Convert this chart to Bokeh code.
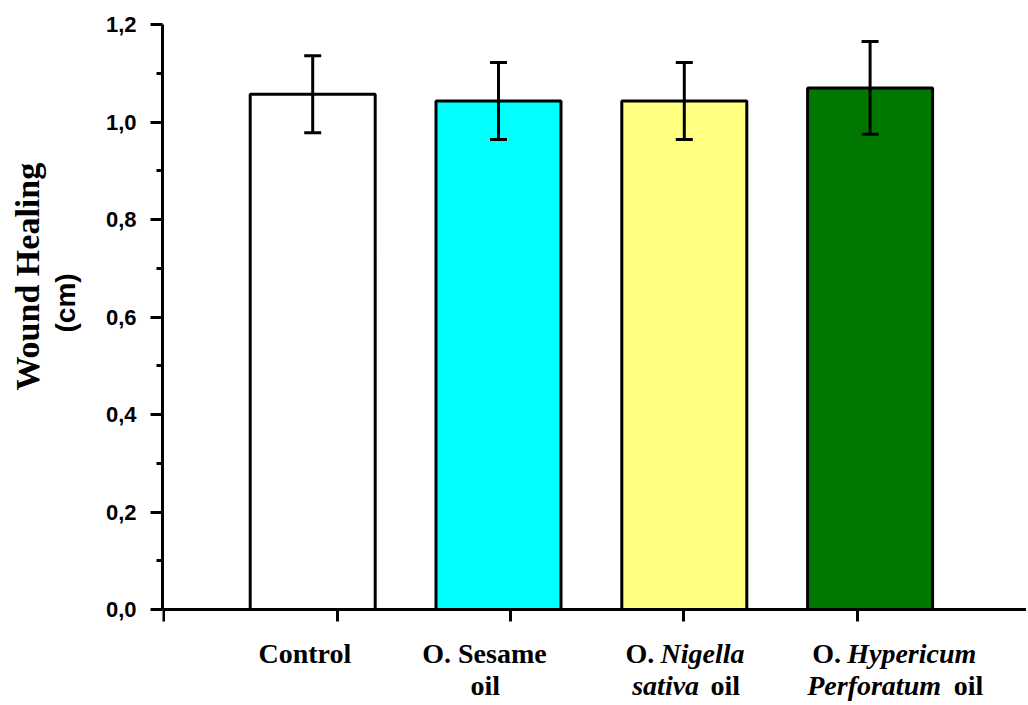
from bokeh.plotting import figure
from bokeh.models import (ColumnDataSource, Range1d, FixedTicker, CustomJSTickFormatter,
                          Whisker, TeeHead, Label, Title)
from bokeh.embed import file_html
from bokeh.resources import INLINE

# ---- data ----
categories = ["Control", "O. Sesame oil", "O. Nigella sativa oil", "O. Hypericum Perforatum oil"]
means = [1.057, 1.043, 1.043, 1.070]
sds = [0.079, 0.079, 0.079, 0.095]
colors = ["#FFFFFF", "#00FFFF", "#FFFF80", "#007800"]
y_ticks = [0.0, 0.2, 0.4, 0.6, 0.8, 1.0, 1.2]
y_minor = [0.1, 0.3, 0.5, 0.7, 0.9, 1.1]

# ---- layout helpers (page pixel -> data) ----
W, H = 1026, 703
BL, BT = 162, 24
FRAME_L, FRAME_R = BL, W
FRAME_T, FRAME_B = BT, H
Y0_PX = 609                  # pixel row of value 0
PX0, PXU = 312.2, 185.8      # bar 0 centre, px per category step
YMAX = 1.2
PYU = (Y0_PX - FRAME_T) / YMAX
LABEL_SHIFT = 10             # Label anchor vs. glyph baseline correction

def dx(px):
    return (px - PX0) / PXU

def dy(py):
    return (Y0_PX - py) / PYU

x_idx = list(range(len(categories)))
upper = [m + s for m, s in zip(means, sds)]
lower = [m - s for m, s in zip(means, sds)]
src = ColumnDataSource(dict(x=x_idx, top=means, upper=upper, lower=lower,
                            color=colors, name=categories))

p = figure(width=W, height=H, output_backend="svg", toolbar_location=None,
           x_range=Range1d(dx(FRAME_L), dx(FRAME_R)), y_range=Range1d(dy(FRAME_B), YMAX),
           x_axis_location="above",
           min_border_left=BL, min_border_right=0, min_border_top=BT, min_border_bottom=0)
p.outline_line_color = None
p.grid.visible = False

p.vbar(x="x", top="top", width=125 / PXU, bottom=0, source=src,
       fill_color="color", line_color="black", line_width=3)

wh = Whisker(source=src, base="x", upper="upper", lower="lower",
             line_color="black", line_width=3, level="overlay",
             upper_head=TeeHead(size=17, line_width=3, line_color="black"),
             lower_head=TeeHead(size=17, line_width=3, line_color="black"))
p.add_layout(wh)

# y axis
ya = p.yaxis[0]
ya.bounds = (0, YMAX)
ya.ticker = FixedTicker(ticks=y_ticks, minor_ticks=y_minor)
ya.formatter = CustomJSTickFormatter(code="return tick.toFixed(1).replace('.', ',');")
ya.axis_line_width = 3
ya.major_tick_line_width = 3
ya.minor_tick_line_width = 3
ya.major_tick_out = 12
ya.major_tick_in = 0
ya.minor_tick_out = 6
ya.minor_tick_in = 0
ya.major_label_standoff = 14
ya.major_label_text_font = "Liberation Sans"
ya.major_label_text_font_style = "bold"
ya.major_label_text_font_size = "22px"
ya.major_label_text_color = "black"

# x axis drawn at y = 0, ticks pointing down
xa = p.xaxis[0]
xa.fixed_location = 0
x_tick_px = [162.7, 336.7, 510.0, 683.3, 857.3]
xa.ticker = FixedTicker(ticks=[dx(v) for v in x_tick_px], minor_ticks=[])
xa.formatter = CustomJSTickFormatter(code="return '';")
xa.major_label_text_font_size = "0px"
xa.major_label_standoff = 0
xa.axis_line_width = 3
xa.major_tick_line_width = 3
xa.major_tick_out = 0
xa.major_tick_in = 12
xa.minor_tick_out = 0
xa.minor_tick_in = 0

# y axis title: spacer, "(cm)" inner, "Wound Healing" outer
p.add_layout(Title(text=".", text_font_size="2px", text_color="white", standoff=19), "left")
p.add_layout(Title(text="(cm)", align="left", offset=FRAME_B - 332, vertical_align="bottom",
                   standoff=0, text_font="Liberation Sans", text_font_style="bold",
                   text_font_size="28px", text_color="black"), "left")
p.add_layout(Title(text="Wound Healing", align="left", offset=FRAME_B - 390, vertical_align="bottom",
                   standoff=4, text_font="Liberation Serif", text_font_style="bold",
                   text_font_size="34px", text_color="black"), "left")

# category labels (mixed bold / bold italic segments), page-pixel anchors
segments = [
    ("Control", "bold", 258.0, 663),
    ("O. Sesame", "bold", 421.7, 663),
    ("oil", "bold", 470.0, 695),
    ("O.", "bold", 625.0, 663),
    ("Nigella", "bold italic", 660.0, 663),
    ("sativa", "bold italic", 631.7, 695),
    ("oil", "bold", 710.0, 695),
    ("O.", "bold", 811.7, 663),
    ("Hypericum", "bold italic", 846.7, 663),
    ("Perforatum", "bold italic", 806.7, 695),
    ("oil", "bold", 953.3, 695),
]
for txt, style, lx, by in segments:
    p.add_layout(Label(x=dx(lx), y=dy(by - LABEL_SHIFT), text=txt, text_align="left",
                       text_baseline="alphabetic", text_font="Liberation Serif",
                       text_font_style=style, text_font_size="28px", text_color="black"))

open("out.html", "w").write(file_html(p, INLINE))
